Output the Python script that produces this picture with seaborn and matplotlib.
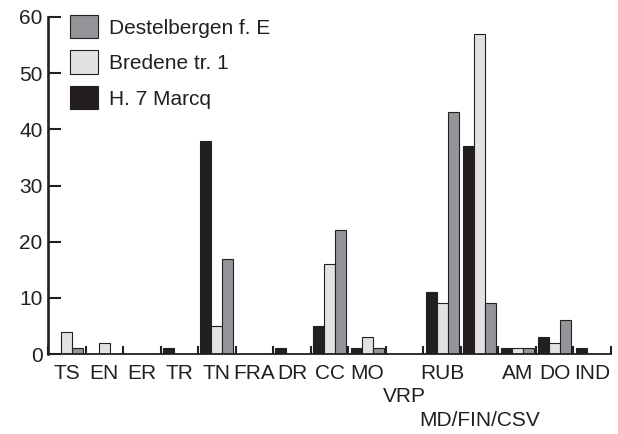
import numpy as np
import pandas as pd
import matplotlib
matplotlib.use('Agg')
import matplotlib.pyplot as plt
import seaborn as sns
from matplotlib.patches import Patch

categories = ['TS', 'EN', 'ER', 'TR', 'TN', 'FRA', 'DR', 'CC', 'MO', 'VRP',
              'RUB', 'MD/FIN/CSV', 'AM', 'DO', 'IND']
# label row for each category (0 = top row, staggered labels drop down)
label_rows = [0, 0, 0, 0, 0, 0, 0, 0, 0, 1, 0, 2, 0, 0, 0]

marcq = [0, 0, 0, 1, 38, 0, 1, 5, 1, 0, 11, 37, 1, 3, 1]
bredene = [4, 2, 0, 0, 5, 0, 0, 16, 3, 0, 9, 57, 1, 2, 0]
destelbergen = [1, 0, 0, 0, 17, 0, 0, 22, 1, 0, 43, 9, 1, 6, 0]

sites = ['H. 7 Marcq', 'Bredene tr. 1', 'Destelbergen f. E']
colors = ['#231f20', '#e1e2e4', '#939598']
edge = '#231f20'

df = pd.DataFrame({
    'cat': categories * 3,
    'site': np.repeat(sites, len(categories)),
    'value': marcq + bredene + destelbergen,
})

sns.set_style('ticks')
plt.rcParams['font.family'] = ['Liberation Sans', 'DejaVu Sans']
plt.rcParams['font.size'] = 15

fig = plt.figure(figsize=(6.18, 4.34), dpi=100)
ax = fig.add_axes([48 / 618, 1 - 354 / 434, 563 / 618, 337 / 434])

sns.barplot(data=df, x='cat', y='value', hue='site', hue_order=sites,
            order=categories, palette=colors, saturation=1, width=0.88,
            gap=0, edgecolor=edge, linewidth=0.8, errorbar=None,
            legend=False, ax=ax)

ax.set_xlim(-0.5, len(categories) - 0.5)
ax.set_ylim(0, 60)
ax.set_yticks(range(0, 61, 10))
ax.set_xticks(range(len(categories)))
ax.set_xticklabels(categories, fontsize=15)
for lab, row in zip(ax.get_xticklabels(), label_rows):
    lab.set_y(-row * 23.5 / 337)
ax.set_xticks(np.arange(-0.5, len(categories)), minor=True)
ax.tick_params(axis='x', which='major', length=0, pad=7, colors=edge)
ax.tick_params(axis='x', which='minor', direction='in', length=5.5,
               width=1.5, color=edge)
ax.tick_params(axis='y', direction='in', length=9.5, width=1.5,
               color=edge, labelcolor=edge, labelsize=15, pad=4)
ax.set_xlabel('')
ax.set_ylabel('')

sns.despine(ax=ax, top=True, right=True)
ax.spines['left'].set_linewidth(1.9)
ax.spines['left'].set_color(edge)
ax.spines['bottom'].set_linewidth(1.3)
ax.spines['bottom'].set_color(edge)

handles = [Patch(facecolor=c, edgecolor=edge, linewidth=0.8) for c in colors]
leg = fig.legend(handles[::-1], sites[::-1], loc='upper left',
                 bbox_to_anchor=(70 / 618, 1 - 15 / 434), frameon=False,
                 borderpad=0, borderaxespad=0, handlelength=1.35,
                 handleheight=1.35, handletextpad=0.53, labelspacing=0.58,
                 fontsize=15)
for t in leg.get_texts():
    t.set_color(edge)

fig.savefig('out.png', dpi=100)
